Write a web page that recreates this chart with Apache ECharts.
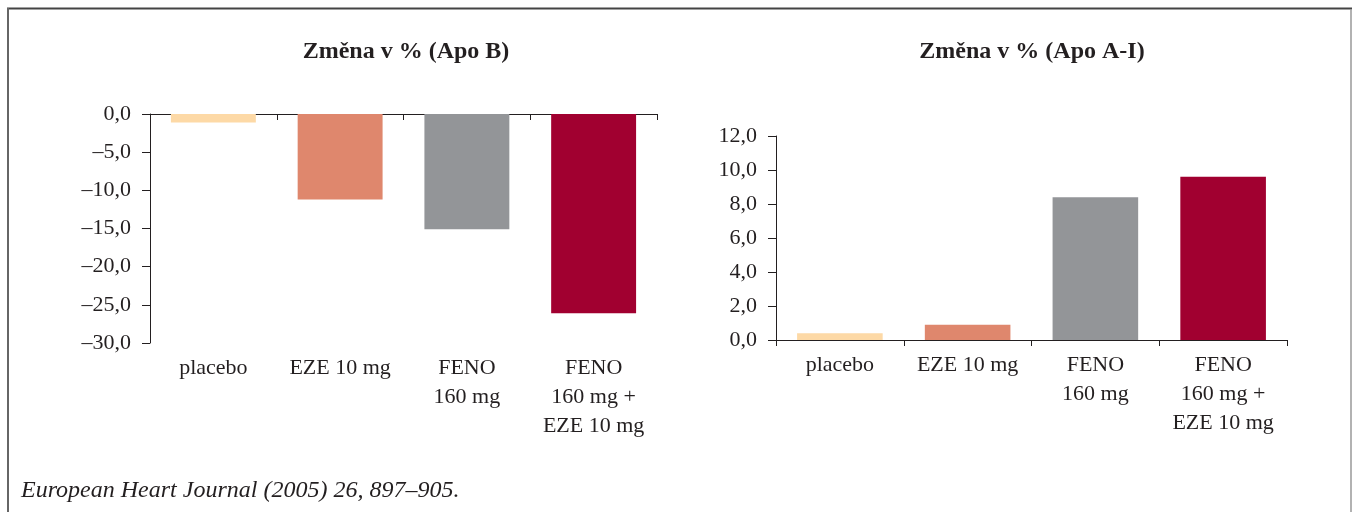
<!DOCTYPE html>
<html><head><meta charset="utf-8">
<script src="https://cdn.jsdelivr.net/npm/echarts@6/dist/echarts.min.js"></script>
<style>html,body{margin:0;padding:0;background:#fff}#c{width:1352px;height:512px}</style>
</head><body><div id="c"></div>
<script>
const categories = ['placebo', 'EZE 10 mg', 'FENO\n160 mg', 'FENO\n160 mg +\nEZE 10 mg'];
const apoB = [-1.1, -11.2, -15.1, -26.1];
const apoA = [0.4, 0.9, 8.4, 9.6];
const titles = ['Změna v % (Apo B)', 'Změna v % (Apo A-I)'];
const source = 'European Heart Journal (2005) 26, 897–905.';
const barColors = ['#FDD9A6', '#DF876D', '#939598', '#A10030'];

const font = 'Liberation Serif';
const ink = '#231f20';
const fmt = v => (v < 0 ? '–' : '') + Math.abs(v).toFixed(1).replace('.', ',');
const mk = arr => arr.map((v, i) => ({ value: v, itemStyle: { color: barColors[i] } }));

const chart = echarts.init(document.getElementById('c'));
const axisLine = { show: true, lineStyle: { color: ink, width: 1 } };
const catLabel = { fontFamily: font, fontSize: 22, color: ink, lineHeight: 29, margin: 11, interval: 0 };
const valLabel = { fontFamily: font, fontSize: 22, color: ink, margin: 19, formatter: fmt };
chart.setOption({
  animation: false,
  title: [
    { text: titles[0], left: 401, top: 35, textAlign: 'center', textStyle: { fontFamily: font, fontWeight: 'bold', fontSize: 24, color: ink } },
    { text: titles[1], left: 1027, top: 35, textAlign: 'center', textStyle: { fontFamily: font, fontWeight: 'bold', fontSize: 24, color: ink } }
  ],
  grid: [
    { left: 150, top: 114, width: 507, height: 229 },
    { left: 776, top: 136, width: 511, height: 204 }
  ],
  xAxis: [
    { type: 'category', gridIndex: 0, data: categories, position: 'bottom',
      axisLine, axisTick: { show: true, length: 6, lineStyle: { color: ink } }, axisLabel: catLabel },
    { type: 'category', gridIndex: 0, data: categories, position: 'top',
      axisLine, axisTick: { show: true, inside: true, length: 5, lineStyle: { color: ink } },
      axisLabel: { show: false } },
    { type: 'category', gridIndex: 1, data: categories, position: 'bottom',
      axisLine, axisTick: { show: true, length: 6, lineStyle: { color: ink } }, axisLabel: catLabel }
  ],
  yAxis: [
    { type: 'value', gridIndex: 0, min: -30, max: 0, interval: 5,
      axisLine, axisTick: { show: true, length: 8, lineStyle: { color: ink } },
      splitLine: { show: false }, axisLabel: valLabel },
    { type: 'value', gridIndex: 1, min: 0, max: 12, interval: 2,
      axisLine, axisTick: { show: true, length: 8, lineStyle: { color: ink } },
      splitLine: { show: false }, axisLabel: valLabel }
  ],
  series: [
    { type: 'bar', xAxisIndex: 0, yAxisIndex: 0, data: mk(apoB), barWidth: '67%' },
    { type: 'bar', xAxisIndex: 2, yAxisIndex: 1, data: mk(apoA), barWidth: '67%' }
  ],
  graphic: [
    { type: 'line', shape: { x1: 7, y1: 8.5, x2: 1352, y2: 8.5 }, style: { stroke: '#444', lineWidth: 2 } },
    { type: 'line', shape: { x1: 8, y1: 8, x2: 8, y2: 512 }, style: { stroke: '#666', lineWidth: 2 } },
    { type: 'line', shape: { x1: 1351, y1: 9, x2: 1351, y2: 512 }, style: { stroke: '#999', lineWidth: 1.5 } },
    { type: 'text', left: 21, top: 479, style: { text: source, fontFamily: font, fontStyle: 'italic', fontSize: 24, fill: ink } }
  ]
});
</script></body></html>
